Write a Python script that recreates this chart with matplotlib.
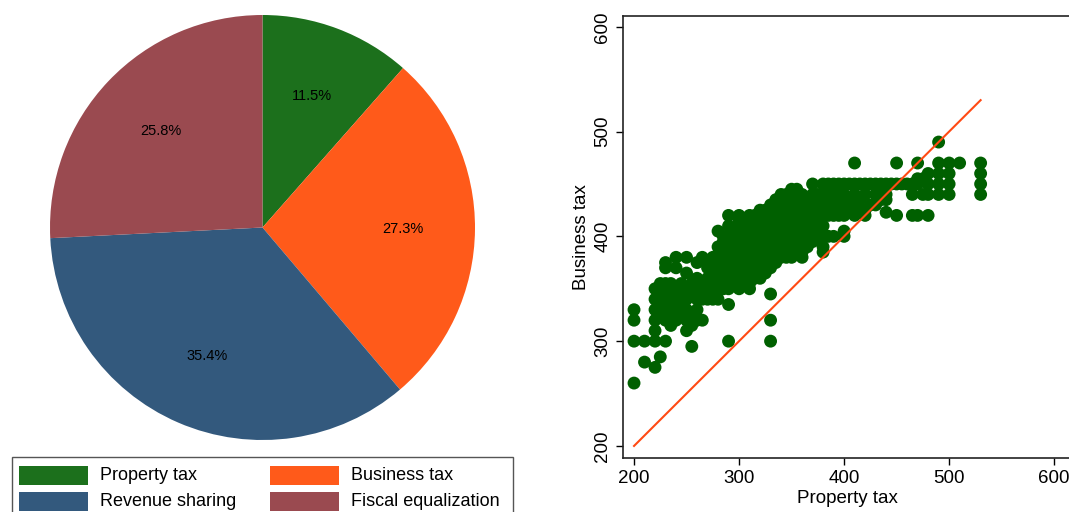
import matplotlib
matplotlib.use("Agg")
import matplotlib.pyplot as plt
from matplotlib.patches import Rectangle

plt.rcParams['font.family'] = ['Liberation Sans', 'DejaVu Sans']

# ---------------- data ----------------
pie_labels = ["Property tax", "Business tax", "Revenue sharing", "Fiscal equalization"]
pie_values = [11.5, 27.3, 35.4, 25.8]
pie_colors = ["#1c701c", "#ff5a1a", "#33597d", "#9a4a50"]

# scatter points (property tax, business tax), one line per column
prop_tax = [
    200, 200, 200, 200,
    210, 210,
    220, 220, 220, 220, 220, 220, 220,
    225, 225, 225, 225, 225, 225,
    230, 230, 230, 230, 230, 230, 230, 230, 230,
    235, 235, 235, 235, 235, 235,
    240, 240, 240, 240, 240, 240, 240, 240,
    245, 245, 245, 245, 245,
    250, 250, 250, 250, 250, 250, 250, 250,
    255, 255, 255, 255, 255, 255,
    260, 260, 260, 260, 260, 260, 260,
    265, 265, 265, 265, 265, 265,
    270, 270, 270, 270, 270, 270, 270,
    275, 275, 275, 275, 275, 275, 275,
    280, 280, 280, 280, 280, 280, 280, 280, 280,
    285, 285, 285, 285, 285, 285, 285, 285, 285, 285, 285,
    290, 290, 290, 290, 290, 290, 290, 290, 290, 290, 290, 290, 290, 290,
    295, 295, 295, 295, 295, 295, 295, 295, 295, 295, 295,
    300, 300, 300, 300, 300, 300, 300, 300, 300, 300, 300, 300, 300, 300, 300,
    305, 305, 305, 305, 305, 305, 305, 305, 305, 305, 305, 305, 305,
    310, 310, 310, 310, 310, 310, 310, 310, 310, 310, 310, 310, 310, 310, 310,
    315, 315, 315, 315, 315, 315, 315, 315, 315, 315, 315, 315, 315,
    320, 320, 320, 320, 320, 320, 320, 320, 320, 320, 320, 320, 320, 320,
    325, 325, 325, 325, 325, 325, 325, 325, 325, 325, 325, 325, 325,
    330, 330, 330, 330, 330, 330, 330, 330, 330, 330, 330, 330, 330, 330, 330, 330,
    335, 335, 335, 335, 335, 335, 335, 335, 335, 335, 335, 335, 335,
    340, 340, 340, 340, 340, 340, 340, 340, 340, 340, 340, 340, 340,
    345, 345, 345, 345, 345, 345, 345, 345, 345, 345, 345, 345, 345,
    350, 350, 350, 350, 350, 350, 350, 350, 350, 350, 350, 350, 350, 350,
    355, 355, 355, 355, 355, 355, 355, 355, 355, 355, 355, 355, 355,
    360, 360, 360, 360, 360, 360, 360, 360, 360, 360, 360, 360, 360,
    365, 365, 365, 365, 365, 365, 365, 365, 365, 365,
    370, 370, 370, 370, 370, 370, 370,
    375, 375, 375, 375, 375,
    380, 380, 380, 380, 380, 380, 380, 380,
    385, 385, 385, 385, 385,
    390, 390, 390, 390, 390,
    395, 395, 395, 395,
    400, 400, 400, 400, 400, 400,
    405, 405, 405,
    410, 410, 410, 410, 410,
    415, 415, 415,
    420, 420, 420, 420,
    425, 425,
    430, 430, 430,
    435, 435, 435,
    440, 440, 440, 440,
    445,
    450, 450, 450,
    455,
    460,
    465, 465, 465,
    470, 470, 470, 470,
    475, 475,
    480, 480, 480, 480,
    490, 490, 490, 490, 490,
    500, 500, 500, 500,
    510,
    530, 530, 530, 530,
]
bus_tax = [
    260, 300, 320, 330,
    280, 300,
    275, 300, 310, 320, 330, 340, 350,
    285, 325, 335, 345, 355, 350,
    300, 320, 325, 330, 340, 350, 355, 370, 375,
    315, 325, 335, 345, 350, 355,
    320, 325, 330, 340, 345, 350, 370, 380,
    325, 335, 345, 350, 355,
    310, 320, 325, 330, 340, 350, 365, 380,
    295, 315, 325, 345, 350, 355,
    320, 330, 340, 350, 355, 360, 375,
    320, 340, 345, 350, 355, 380,
    340, 345, 350, 355, 360, 370, 375,
    340, 345, 350, 355, 365, 370, 380,
    340, 350, 355, 360, 370, 375, 380, 390, 405,
    350, 355, 360, 365, 370, 375, 380, 385, 390, 395, 400,
    300, 335, 350, 355, 360, 365, 370, 375, 380, 385, 390, 400, 410, 420,
    355, 360, 365, 370, 375, 380, 385, 390, 395, 400, 405,
    350, 355, 360, 365, 370, 375, 380, 385, 390, 395, 400, 405, 410, 415, 420,
    355, 360, 365, 370, 375, 380, 385, 390, 395, 400, 405, 410, 415,
    350, 355, 360, 365, 370, 375, 380, 385, 390, 395, 400, 405, 410, 415, 420,
    360, 365, 370, 375, 380, 385, 390, 395, 400, 405, 410, 415, 420,
    360, 365, 370, 375, 380, 385, 390, 395, 400, 405, 410, 415, 420, 425,
    365, 370, 375, 380, 385, 390, 395, 400, 405, 410, 415, 420, 425,
    300, 320, 345, 370, 375, 380, 385, 390, 395, 400, 405, 410, 415, 420, 425, 430,
    375, 380, 385, 390, 395, 400, 405, 410, 415, 420, 425, 430, 435,
    380, 385, 390, 395, 400, 405, 410, 415, 420, 425, 430, 435, 440,
    380, 385, 390, 395, 400, 405, 410, 415, 420, 425, 430, 435, 440,
    380, 385, 390, 395, 400, 405, 410, 415, 420, 425, 430, 435, 440, 445,
    385, 390, 395, 400, 405, 410, 415, 420, 425, 430, 435, 440, 445,
    380, 385, 390, 395, 400, 405, 410, 415, 420, 425, 430, 435, 440,
    390, 395, 400, 405, 410, 415, 420, 425, 430, 435,
    395, 400, 410, 420, 430, 440, 450,
    400, 410, 420, 430, 440,
    385, 390, 400, 410, 420, 430, 440, 450,
    400, 420, 430, 440, 450,
    400, 420, 430, 440, 450,
    420, 430, 440, 450,
    400, 405, 420, 430, 440, 450,
    425, 435, 450,
    420, 430, 440, 450, 470,
    425, 435, 450,
    420, 425, 440, 450,
    430, 450,
    430, 440, 450,
    435, 445, 450,
    423, 435, 440, 450,
    450,
    420, 450, 470,
    450,
    450,
    420, 440, 450,
    420, 450, 455, 470,
    440, 455,
    420, 440, 450, 460,
    440, 450, 460, 470, 490,
    440, 450, 460, 470,
    470,
    440, 450, 460, 470,
]
line_x = [200, 530]
line_y = [200, 530]

x_ticks = [200, 300, 400, 500, 600]
y_ticks = [200, 300, 400, 500, 600]

# ---------------- figure ----------------
W, H = 1069, 512
fig = plt.figure(figsize=(W / 100, H / 100), dpi=100)

def fx(px):
    return px / W

def fy(py):
    return 1 - py / H

# pie
ax_pie = fig.add_axes([fx(50), fy(440), 425 / W, 425 / H])
wedges, texts, autotexts = ax_pie.pie(
    pie_values, colors=pie_colors, startangle=90, counterclock=False,
    autopct='%1.1f%%', pctdistance=0.66, radius=1.0,
    wedgeprops=dict(linewidth=0), textprops=dict(fontsize=10.5, color='black'))
ax_pie.set_xlim(-1, 1)
ax_pie.set_ylim(-1, 1)
ax_pie.set_aspect('equal')
ax_pie.axis('off')

# legend (manual box)
fig.patches.append(Rectangle((fx(12), fy(525)), (513 - 12) / W, (525 - 457) / H,
                             transform=fig.transFigure, facecolor='white',
                             edgecolor='#555555', linewidth=1.0, zorder=1))
col_x = [19, 270]
row_y = [475, 501]
for i, (lab, col) in enumerate(zip(pie_labels, pie_colors)):
    cx = col_x[i % 2]
    cy = row_y[i // 2]
    fig.patches.append(Rectangle((fx(cx), fy(cy + 9.5)), 69 / W, 19 / H,
                                 transform=fig.transFigure, facecolor=col,
                                 edgecolor='none', zorder=2))
    fig.text(fx(cx + 81), fy(cy), lab, fontsize=13, va='center', ha='left', zorder=3)

# scatter
left, right, top, bottom = 623, 1072, 16, 458
ax = fig.add_axes([fx(left), fy(bottom), (right - left) / W, (bottom - top) / H])
ax.scatter(prop_tax, bus_tax, s=86, color='#006000', edgecolors='none', zorder=2)
ax.plot(line_x, line_y, color='#ff4a14', linewidth=1.5, zorder=3)
ax.set_xlim(189.5, 617.0)
ax.set_ylim(188.5, 610.3)
ax.set_xticks(x_ticks)
ax.set_yticks(y_ticks)
ax.tick_params(axis='both', direction='out', length=5, width=1.0, labelsize=13.5, colors='black')
for lbl in ax.get_yticklabels():
    lbl.set_rotation(90)
    lbl.set_va('center')
ax.set_xlabel('Property tax', fontsize=13.5, labelpad=2)
ax.set_ylabel('Business tax', fontsize=13.5, labelpad=3)
for sp in ax.spines.values():
    sp.set_linewidth(1.2)
    sp.set_color('#222222')

fig.savefig('out.png', dpi=100)
